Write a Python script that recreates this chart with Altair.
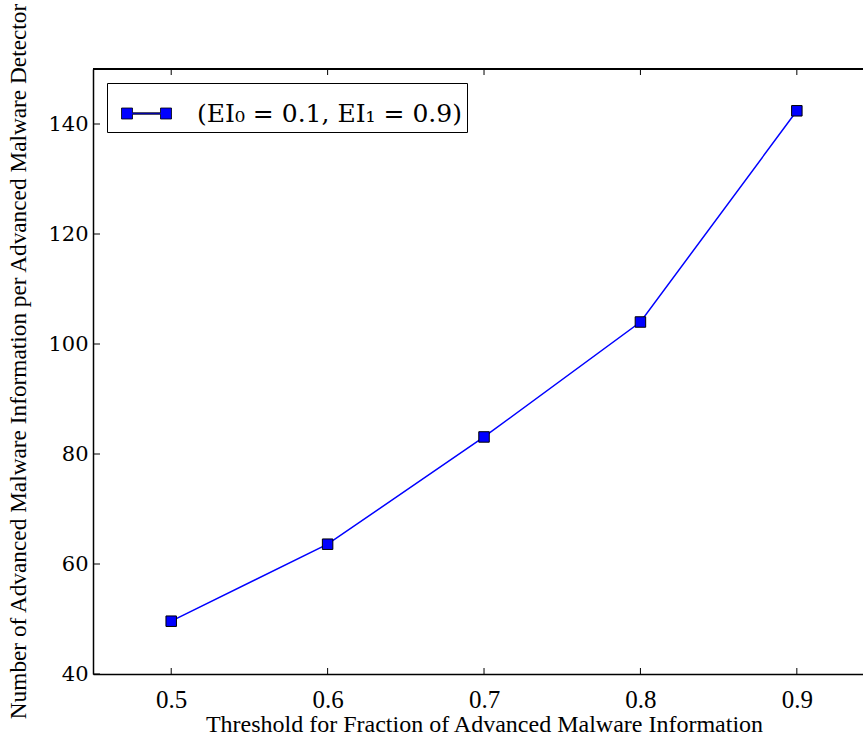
import altair as alt
import pandas as pd

thresholds = [0.5, 0.6, 0.7, 0.8, 0.9]
counts = [49.6, 63.6, 83.1, 104.0, 142.4]
series_label = "(EI\u2080 = 0.1, EI\u2081 = 0.9)\u2002"
x_ticks = [0.5, 0.6, 0.7, 0.8, 0.9]
y_ticks = [40, 60, 80, 100, 120, 140]

W, H = 770, 605
df = pd.DataFrame({"t": thresholds, "n": counts, "s": [series_label] * len(thresholds)})
xt = pd.DataFrame({"v": x_ticks})
yt = pd.DataFrame({"v": y_ticks})

xscale = alt.Scale(domain=[0.45, 0.9423], nice=False, zero=False)
yscale = alt.Scale(domain=[40, 150], nice=False, zero=False)

legend_path = ("M-1,-0.22 L-0.56,-0.22 L-0.56,-0.03 L0.56,-0.03 L0.56,-0.22 L1,-0.22 "
               "L1,0.22 L0.56,0.22 L0.56,0.03 L-0.56,0.03 L-0.56,0.22 L-1,0.22 Z")

x_axis = alt.Axis(values=x_ticks, format=".1f", tickSize=0, grid=False,
                  domainColor="black", domainWidth=1.5,
                  labelFont="Liberation Serif", labelFontSize=25, labelColor="black",
                  labelPadding=13,
                  title="Threshold for Fraction of Advanced Malware Information",
                  titleFont="Liberation Serif", titleFontSize=24, titleFontWeight="normal",
                  titleColor="black", titleX=391, titleY=50, titleBaseline="middle",
                  titleAlign="center")
y_axis = alt.Axis(values=y_ticks, format="d", tickSize=0, grid=False,
                  domainColor="black", domainWidth=1.5,
                  labelFont="DejaVu Serif", labelFontSize=21, labelColor="black",
                  labelPadding=5,
                  title="Number of Advanced Malware Information per Advanced Malware Detector",
                  titleFont="Liberation Serif", titleFontSize=23.3, titleFontWeight="normal",
                  titleColor="black", titleX=-75, titleY=292, titleAngle=270,
                  titleBaseline="middle", titleAlign="center")

line = alt.Chart(df).mark_line(color="#0000ff", strokeWidth=1.5).encode(
    x=alt.X("t:Q", scale=xscale, axis=x_axis),
    y=alt.Y("n:Q", scale=yscale, axis=y_axis),
)
points = alt.Chart(df).mark_point(shape="square", filled=True, size=110,
                                  stroke="black", strokeWidth=1, opacity=1).encode(
    x=alt.X("t:Q", scale=xscale),
    y=alt.Y("n:Q", scale=yscale),
    color=alt.Color("s:N", scale=alt.Scale(range=["#0000ff"]),
                    legend=alt.Legend(title=None, orient="none", legendX=14, legendY=14,
                                      symbolType=legend_path, symbolSize=2500,
                                      symbolStrokeColor="black", symbolStrokeWidth=0.8,
                                      symbolOpacity=1,
                                      symbolOffset=9, labelOffset=25,
                                      labelFont="DejaVu Serif", labelFontSize=25,
                                      labelColor="black", labelLimit=500,
                                      padding=5, strokeColor="black", fillColor="white",
                                      cornerRadius=0)),
)

bottom_ticks = alt.Chart(xt).mark_rule(color="black", strokeWidth=1).encode(
    x=alt.X("v:Q", scale=xscale), y=alt.value(H), y2=alt.value(H - 6))
top_ticks = alt.Chart(xt).mark_rule(color="black", strokeWidth=1).encode(
    x=alt.X("v:Q", scale=xscale), y=alt.value(0), y2=alt.value(6))
left_ticks = alt.Chart(yt).mark_rule(color="black", strokeWidth=1).encode(
    y=alt.Y("v:Q", scale=yscale), x=alt.value(0), x2=alt.value(7))
top_spine = alt.Chart(xt).mark_rule(color="black", strokeWidth=1.5).encode(
    x=alt.value(0), x2=alt.value(W), y=alt.value(0))

chart = alt.layer(top_spine, bottom_ticks, top_ticks, left_ticks, line, points).properties(
    width=W, height=H,
    autosize=alt.AutoSizeParams(type="none"),
    padding={"left": 93, "top": 69, "right": 0, "bottom": 68},
).configure_view(stroke=None).configure(background="white")

chart.save("out.html", embed_options={"renderer": "svg", "actions": False})
